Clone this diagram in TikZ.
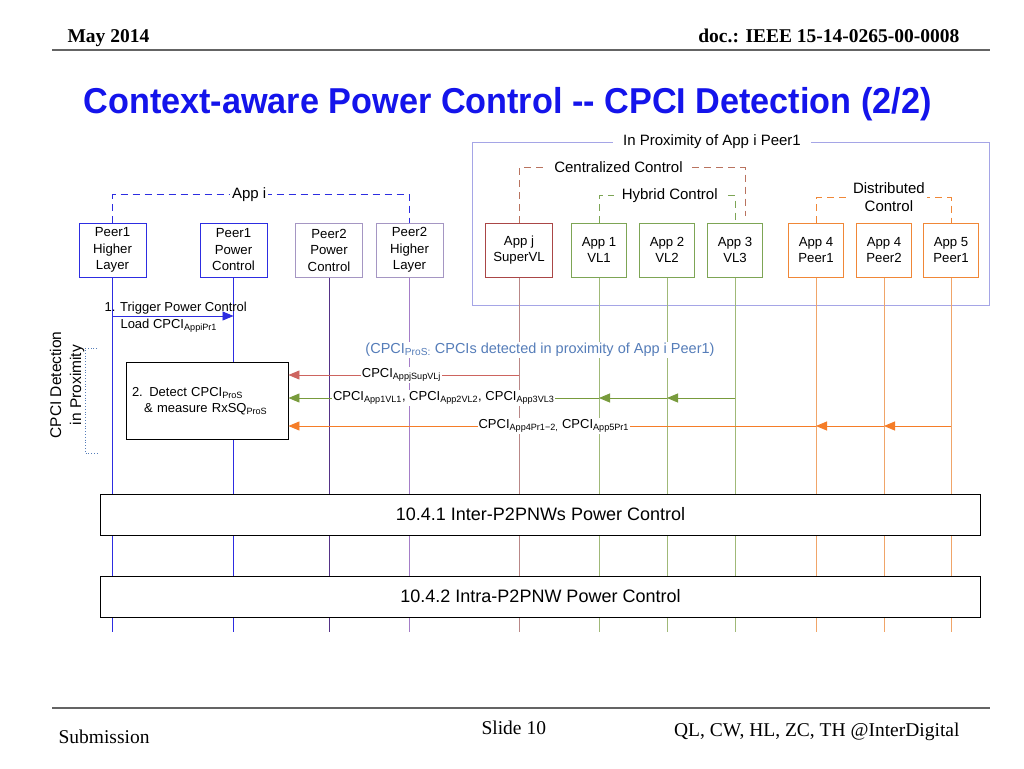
\documentclass[tikz,border=0pt]{standalone}
\usepackage{fontspec}
\setmainfont{Liberation Sans}
\newfontfamily\slidefont{Liberation Serif}
\usetikzlibrary{arrows.meta,calc}

\definecolor{titleblue}{RGB}{20,20,235}
\definecolor{peerblue}{RGB}{45,45,225}
\definecolor{peergray}{RGB}{165,150,195}
\definecolor{peerpurple}{RGB}{85,50,135}
\definecolor{peerlilac}{RGB}{165,125,200}
\definecolor{appjred}{RGB}{170,70,70}
\definecolor{appjline}{RGB}{185,135,135}
\definecolor{vlgreen}{RGB}{125,165,85}
\definecolor{vlline}{RGB}{160,185,120}
\definecolor{peerorange}{RGB}{240,135,55}
\definecolor{orangeline}{RGB}{240,165,105}
\definecolor{proxblue}{RGB}{165,165,230}
\definecolor{centralbrown}{RGB}{185,115,95}
\definecolor{notecolor}{RGB}{85,125,185}
\definecolor{msgred}{RGB}{205,100,95}
\definecolor{msggreen}{RGB}{120,155,60}
\definecolor{msgorange}{RGB}{245,125,40}
\definecolor{rulegray}{RGB}{100,100,100}

\begin{document}
\begin{tikzpicture}[
  x=1pt,
  y=-1pt,
  line/.style={line width=0.9pt},
  lifeline/.style={line},
  block/.style={draw,line width=1pt,fill=white,align=center,minimum height=54pt,inner sep=1pt,font=\fontsize{13.2}{16.5}\selectfont},
  peerbox/.style={block,minimum width=67pt},
  appbox/.style={block,minimum width=55pt},
  bracket/.style={line,dash pattern=on 7pt off 5pt},
  brlabel/.style={fill=white,text=black,inner sep=2pt,font=\fontsize{15}{18}\selectfont},
  msg/.style={line,-{Triangle[length=11pt,width=9pt]}},
  msglabel/.style={fill=white,text=black,inner sep=1pt,font=\fontsize{13}{14}\selectfont},
  bar/.style={draw,line width=0.9pt,fill=white,minimum width=880pt,minimum height=41pt,font=\fontsize{18}{20}\selectfont},
  slidetext/.style={font=\slidefont\fontsize{19.5}{22}\selectfont}
]
\fill[white] (0,0) rectangle (1024,768);
\useasboundingbox (0,0) rectangle (1024,768);

% Slide header and footer
\node[slidetext,font=\slidefont\bfseries\fontsize{19.5}{22}\selectfont,anchor=base west] (date) at (64,43) {May 2014};
\node[slidetext,font=\slidefont\bfseries\fontsize{19.5}{22}\selectfont,anchor=base east] (docno) at (963,43) {doc.: IEEE 15-14-0265-00-0008};
\draw[rulegray,line width=2pt] (52,50) -- (990,50);
\node[anchor=base west,text=titleblue,font=\bfseries\fontsize{36}{40}\selectfont] (title) at (80,113)
  {\resizebox{848pt}{\height}{Context-aware Power Control -{}- CPCI Detection (2/2)}};
\draw[rulegray,line width=2pt] (52,708) -- (990,708);
\node[slidetext,anchor=base west] (submission) at (55,743) {Submission};
\node[slidetext,anchor=base west] (slideno) at (478,734) {Slide 10};
\node[slidetext,anchor=base east] (authors) at (963,736) {QL, CW, HL, ZC, TH @InterDigital};

% Proximity region
\draw[proxblue,line] (472,142) rectangle (989,305);
\node[brlabel,inner xsep=10pt] (proxlabel) at (712,142) {In Proximity of App i Peer1};

% App i entities
\node[peerbox,draw=peerblue] (p1hl) at (112.5,250) {Peer1\\Higher\\Layer};
\node[peerbox,draw=peerblue] (p1pc) at (233.5,250) {Peer1\\Power\\Control};
\node[peerbox,draw=peergray] (p2pc) at (329,250) {Peer2\\Power\\Control};
\node[peerbox,draw=peergray] (p2hl) at (409.5,250) {Peer2\\Higher\\Layer};

% Neighbouring apps
\node[block,draw=appjred,minimum width=67pt] (appj) at (519,250) {App j\\SuperVL};
\node[appbox,draw=vlgreen] (app1) at (599,250) {App 1\\VL1};
\node[appbox,draw=vlgreen] (app2) at (667,250) {App 2\\VL2};
\node[appbox,draw=vlgreen] (app3) at (735,250) {App 3\\VL3};
\node[appbox,draw=peerorange] (app4p1) at (816,250) {App 4\\Peer1};
\node[appbox,draw=peerorange] (app4p2) at (884,250) {App 4\\Peer2};
\node[appbox,draw=peerorange] (app5p1) at (951,250) {App 5\\Peer1};

% Grouping brackets
\draw[bracket,peerblue] (p1hl.north) -- ++(0,-28) -| node[brlabel,pos=0.23] {App i} (p2hl.north);
\draw[bracket,centralbrown] (appj.north) -- ++(0,-55) -| node[brlabel,pos=0.22,inner xsep=8pt] {Centralized Control} ($(app3.north)+(10,-7)$);
\draw[bracket,vlgreen] (app1.north) -- ++(0,-27) -| node[brlabel,pos=0.26,inner xsep=8pt] {Hybrid Control} (app3.north);
\draw[bracket,peerorange] (app4p1.north) -- ++(0,-25) -| node[brlabel,pos=0.27,align=center,font=\fontsize{15}{18}\selectfont] {Distributed\\Control} (app5p1.north);

% Lifelines
\coordinate (lifeend) at (0,632);
\foreach \n/\c in {p1hl/peerblue,p1pc/peerblue,p2pc/peerpurple,p2hl/peerlilac,appj/appjline,
                   app1/vlline,app2/vlline,app3/vlline,app4p1/orangeline,app4p2/orangeline,app5p1/orangeline}{
  \draw[lifeline,\c] (\n.south) -- (\n.south |- lifeend);
}

% Power control phases
\node[bar] (inter) at (540.5,514.5) {10.4.1 Inter-P2PNWs Power Control};
\node[bar] (intra) at (540.5,596.5) {10.4.2 Intra-P2PNW Power Control};

% Step 1: trigger
\coordinate (ytrig) at (0,316);
\draw[msg,peerblue] (p1hl.south |- ytrig) -- (p1pc.south |- ytrig);
\node[anchor=base west,font=\fontsize{13}{15}\selectfont] (trigger) at (101,311) {1. Trigger Power Control};
\node[anchor=base west,font=\fontsize{13}{15}\selectfont] (load) at (117,328) {Load CPCI\textsubscript{AppiPr1}};

% Step 2: detection in proximity
\node[draw,line width=0.9pt,fill=white,minimum width=162pt,minimum height=77pt,text width=150pt,align=left,
      font=\fontsize{13}{16}\selectfont] (detect) at (207,401)
  {2. Detect CPCI\textsubscript{ProS}\\\hspace*{12pt}\& measure RxSQ\textsubscript{ProS}};
\draw[notecolor,line width=0.8pt,dotted] (97,348) -- (85,348) -- (85,453) -- (97,453);
\node[rotate=90,align=center,font=\fontsize{15.5}{20}\selectfont] (cpcidet) at (67,385) {CPCI Detection\\in Proximity};
\node[fill=white,inner sep=1pt,text=notecolor,font=\fontsize{14.5}{16}\selectfont] (note) at (540,350)
  {(CPCI\textsubscript{ProS:} CPCIs detected in proximity of App i Peer1)};

\coordinate (yred) at (0,375);
\coordinate (ygreen) at (0,398);
\coordinate (yorange) at (0,426);
\draw[msg,msgred] (appj.south |- yred) -- node[msglabel,pos=0.51] {CPCI\textsubscript{AppjSupVLj}} (detect.east |- yred);
\draw[msg,msggreen] (app3.south |- ygreen) -- (app2.south |- ygreen);
\draw[msg,msggreen] (app2.south |- ygreen) -- (app1.south |- ygreen);
\draw[msg,msggreen] (app1.south |- ygreen) -- node[msglabel,pos=0.50]
  {CPCI\textsubscript{App1VL1}, CPCI\textsubscript{App2VL2}, CPCI\textsubscript{App3VL3}} (detect.east |- ygreen);
\draw[msg,msgorange] (app5p1.south |- yorange) -- (app4p2.south |- yorange);
\draw[msg,msgorange] (app4p2.south |- yorange) -- (app4p1.south |- yorange);
\draw[msg,msgorange] (app4p1.south |- yorange) -- node[msglabel,pos=0.497]
  {CPCI\textsubscript{App4Pr1\textminus2,} CPCI\textsubscript{App5Pr1}} (detect.east |- yorange);

\end{tikzpicture}
\end{document}
